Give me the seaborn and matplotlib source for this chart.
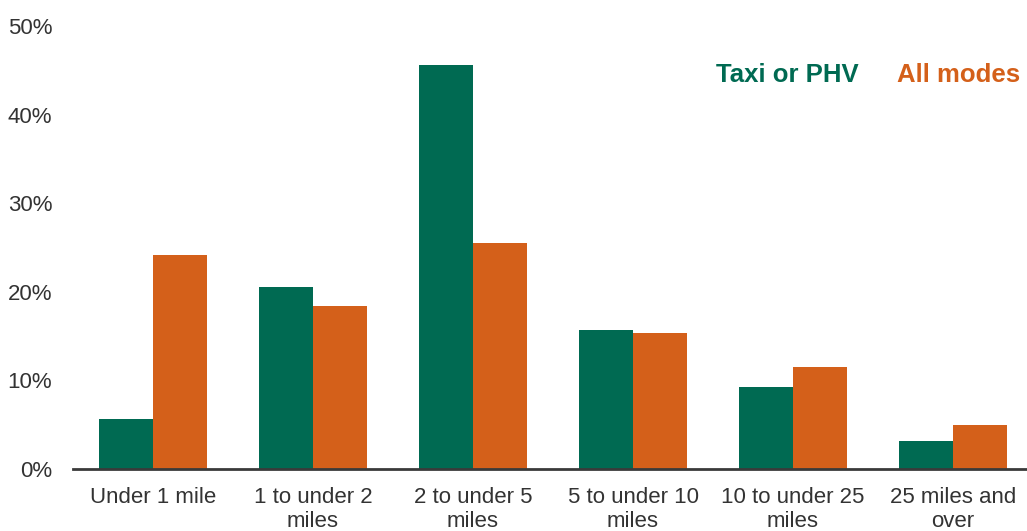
import matplotlib
matplotlib.use("Agg")
import matplotlib.pyplot as plt
import seaborn as sns
import pandas as pd
from matplotlib.ticker import PercentFormatter

# Share of trips by trip length band
categories = ["Under 1 mile", "1 to under 2\nmiles", "2 to under 5\nmiles",
              "5 to under 10\nmiles", "10 to under 25\nmiles", "25 miles and\nover"]
taxi_phv = [5.6, 20.5, 45.6, 15.7, 9.3, 3.2]
all_modes = [24.2, 18.4, 25.5, 15.3, 11.5, 5.0]
series_names = ["Taxi or PHV", "All modes"]
y_ticks = [0, 10, 20, 30, 40, 50]

GREEN = "#006A52"
ORANGE = "#D4601A"
TEXT = "#333333"

df = pd.DataFrame({
    "band": categories * 2,
    "share": taxi_phv + all_modes,
    "mode": [series_names[0]] * len(categories) + [series_names[1]] * len(categories),
})

sns.set_style("white")
plt.rcParams["font.family"] = ["Liberation Sans", "DejaVu Sans"]

fig = plt.figure(figsize=(10.27, 5.31), dpi=100)
ax = fig.add_axes([73 / 1027, 1 - 469 / 531, 960 / 1027, (469 - 26) / 531])

sns.barplot(data=df, x="band", y="share", hue="mode", order=categories,
            hue_order=series_names, palette=[GREEN, ORANGE], width=0.67,
            linewidth=0, saturation=1, legend=False, ax=ax)

ax.set_xlim(-0.5, 5.5)
ax.set_ylim(0, 50)
ax.set_yticks(y_ticks)
ax.yaxis.set_major_formatter(PercentFormatter(decimals=0))
ax.set_xlabel("")
ax.set_ylabel("")

for side in ["top", "right", "left"]:
    ax.spines[side].set_visible(False)
ax.spines["bottom"].set_color("#3a3a3a")
ax.spines["bottom"].set_linewidth(2)

ax.tick_params(axis="y", length=0, pad=15, labelsize=16, labelcolor=TEXT)
ax.tick_params(axis="x", length=0, pad=13, labelsize=16, labelcolor=TEXT)
for lbl in ax.get_xticklabels():
    lbl.set_linespacing(1.2)
    lbl.set_verticalalignment("top")
    lbl.set_multialignment("center")

fig.text(716 / 1027, 1 - 75 / 531, series_names[0], color=GREEN, fontsize=18.5,
         fontweight="bold", ha="left", va="center")
fig.text(897 / 1027, 1 - 75 / 531, series_names[1], color=ORANGE, fontsize=18.5,
         fontweight="bold", ha="left", va="center")

fig.savefig("out.png", dpi=100)
